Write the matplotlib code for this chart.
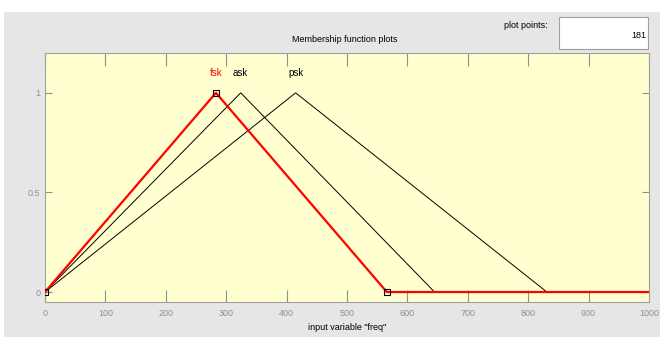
import numpy as np
import matplotlib.pyplot as plt
from matplotlib.patches import Rectangle

# membership functions (triangular) on input variable "freq"
names = ['fsk', 'ask', 'psk']
params = [[0, 283, 566], [0, 324, 645], [0, 415, 831]]
colors = ['red', 'black', 'black']
x_range = [0, 1000]
plot_points = 181
x_ticks = [0, 100, 200, 300, 400, 500, 600, 700, 800, 900, 1000]
y_ticks = [0, 0.5, 1]

plt.rcParams['font.family'] = ['Liberation Sans', 'DejaVu Sans']

fig = plt.figure(figsize=(6.6, 3.37), dpi=100)
fig.patch.set_facecolor('white')
# gray window panel
fig.patches.append(Rectangle((4 / 660, 0), 656 / 660, 1 - 12 / 337,
                             transform=fig.transFigure, facecolor='#e6e6e6',
                             edgecolor='none', zorder=-10))
# plot points edit box
fig.patches.append(Rectangle((559 / 660, 1 - 49 / 337), 89 / 660, 32 / 337,
                             transform=fig.transFigure, facecolor='white',
                             edgecolor='#a0a0a0', linewidth=0.8, zorder=-5))
fig.text(646 / 660, 1 - 35 / 337, str(plot_points), ha='right', va='center', fontsize=6.5)
fig.text(548 / 660, 1 - 25 / 337, 'plot points:', ha='right', va='center', fontsize=6.5)
fig.text(345 / 660, 1 - 40 / 337, 'Membership function plots', ha='center', va='center', fontsize=6.5)

ax = fig.add_axes([45 / 660, 1 - 302 / 337, 604 / 660, 249 / 337])
ax.set_zorder(1)
ax.set_facecolor('#ffffd0')

x = np.linspace(x_range[0], x_range[1], plot_points)
order = [1, 2, 0]  # draw selected (red) one last
for i in order:
    a, b, c = params[i]
    y = np.maximum(np.minimum((x - a) / (b - a), (c - x) / (c - b)), 0)
    xs = np.concatenate([[a, b, c], x[x > c]])
    ys = np.concatenate([[0, 1, 0], y[x > c]])
    if names[i] == 'fsk':
        ax.plot(xs, ys, color='red', linewidth=1.6, zorder=3)
        ax.plot([a, b, c], [0, 1, 0], linestyle='none', marker='s', markersize=5,
                markerfacecolor='none', markeredgecolor='black', markeredgewidth=0.8, zorder=4)
    else:
        ax.plot(xs, ys, color='black', linewidth=0.7, zorder=2)
    ax.text(b, 1.1, names[i], color=colors[i], ha='center', va='center', fontsize=7)

ax.set_xlim(x_range)
ax.set_ylim(-0.05, 1.2)
ax.set_xticks(x_ticks)
ax.set_yticks(y_ticks)
ax.set_yticklabels(['0', '0.5', '1'])
ax.tick_params(direction='in', colors='#909090', labelsize=6.5, length=5,
               top=True, right=True, labelcolor='#909090')
ax.tick_params(axis='x', length=9, pad=5)
for s in ax.spines.values():
    s.set_color('#a0a0a0')
ax.set_xlabel('input variable "freq"', fontsize=6.5, labelpad=4)

fig.savefig('out.png', dpi=100)
